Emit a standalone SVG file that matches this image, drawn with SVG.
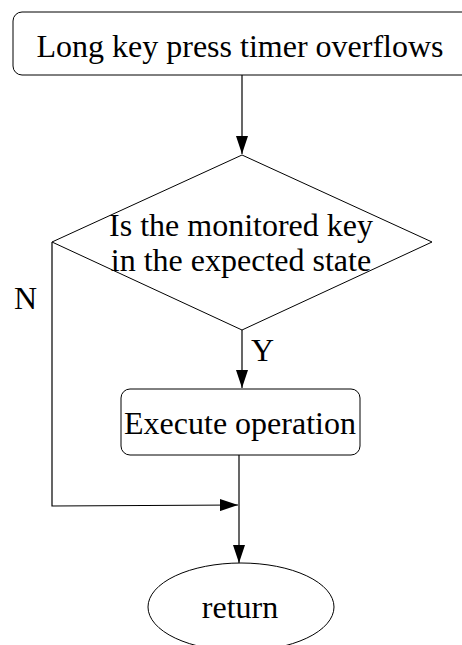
<svg xmlns="http://www.w3.org/2000/svg" width="462" height="645" viewBox="0 0 462 645">
  <style>
    .shape { fill: #ffffff; stroke: #000000; stroke-width: 1; }
    .edge { fill: none; stroke: #000000; stroke-width: 1.2; }
    text { font-family: "Liberation Serif", "Times New Roman", serif; font-size: 32px; fill: #000000; text-anchor: middle; }
    .lbl { text-anchor: start; }
  </style>
  <defs>
    <marker id="arrow" viewBox="0 0 18 12" refX="18" refY="6" markerWidth="18" markerHeight="12" markerUnits="userSpaceOnUse" orient="auto">
      <path d="M0,0 L18,6 L0,12 Z" fill="#000000"/>
    </marker>
  </defs>
  <rect width="462" height="645" fill="#ffffff"/>

  <g id="connectors">
    <line class="edge" x1="242" y1="75" x2="242" y2="154" marker-end="url(#arrow)"/>
    <line class="edge" x1="242" y1="330" x2="242" y2="388" marker-end="url(#arrow)"/>
    <line class="edge" x1="239" y1="455" x2="239" y2="563" marker-end="url(#arrow)"/>
    <polyline class="edge" points="52,242 52,506 238,505" marker-end="url(#arrow)"/>
    <text class="lbl" x="14" y="309">N</text>
    <text class="lbl" x="251" y="361">Y</text>
  </g>

  <g id="start">
    <rect class="shape" x="13" y="12" width="460" height="63" rx="9" ry="9"/>
    <text x="240" y="57">Long key press timer overflows</text>
  </g>

  <g id="decision">
    <polygon class="shape" points="242,155 432,242 242,330 52,242"/>
    <text x="241" y="236">Is the monitored key</text>
    <text x="241" y="271">in the expected state</text>
  </g>

  <g id="execute">
    <rect class="shape" x="121" y="389" width="239" height="66" rx="9" ry="9"/>
    <text x="240" y="434">Execute operation</text>
  </g>

  <g id="return">
    <ellipse class="shape" cx="241" cy="607" rx="93" ry="44"/>
    <text x="240" y="618">return</text>
  </g>
</svg>
